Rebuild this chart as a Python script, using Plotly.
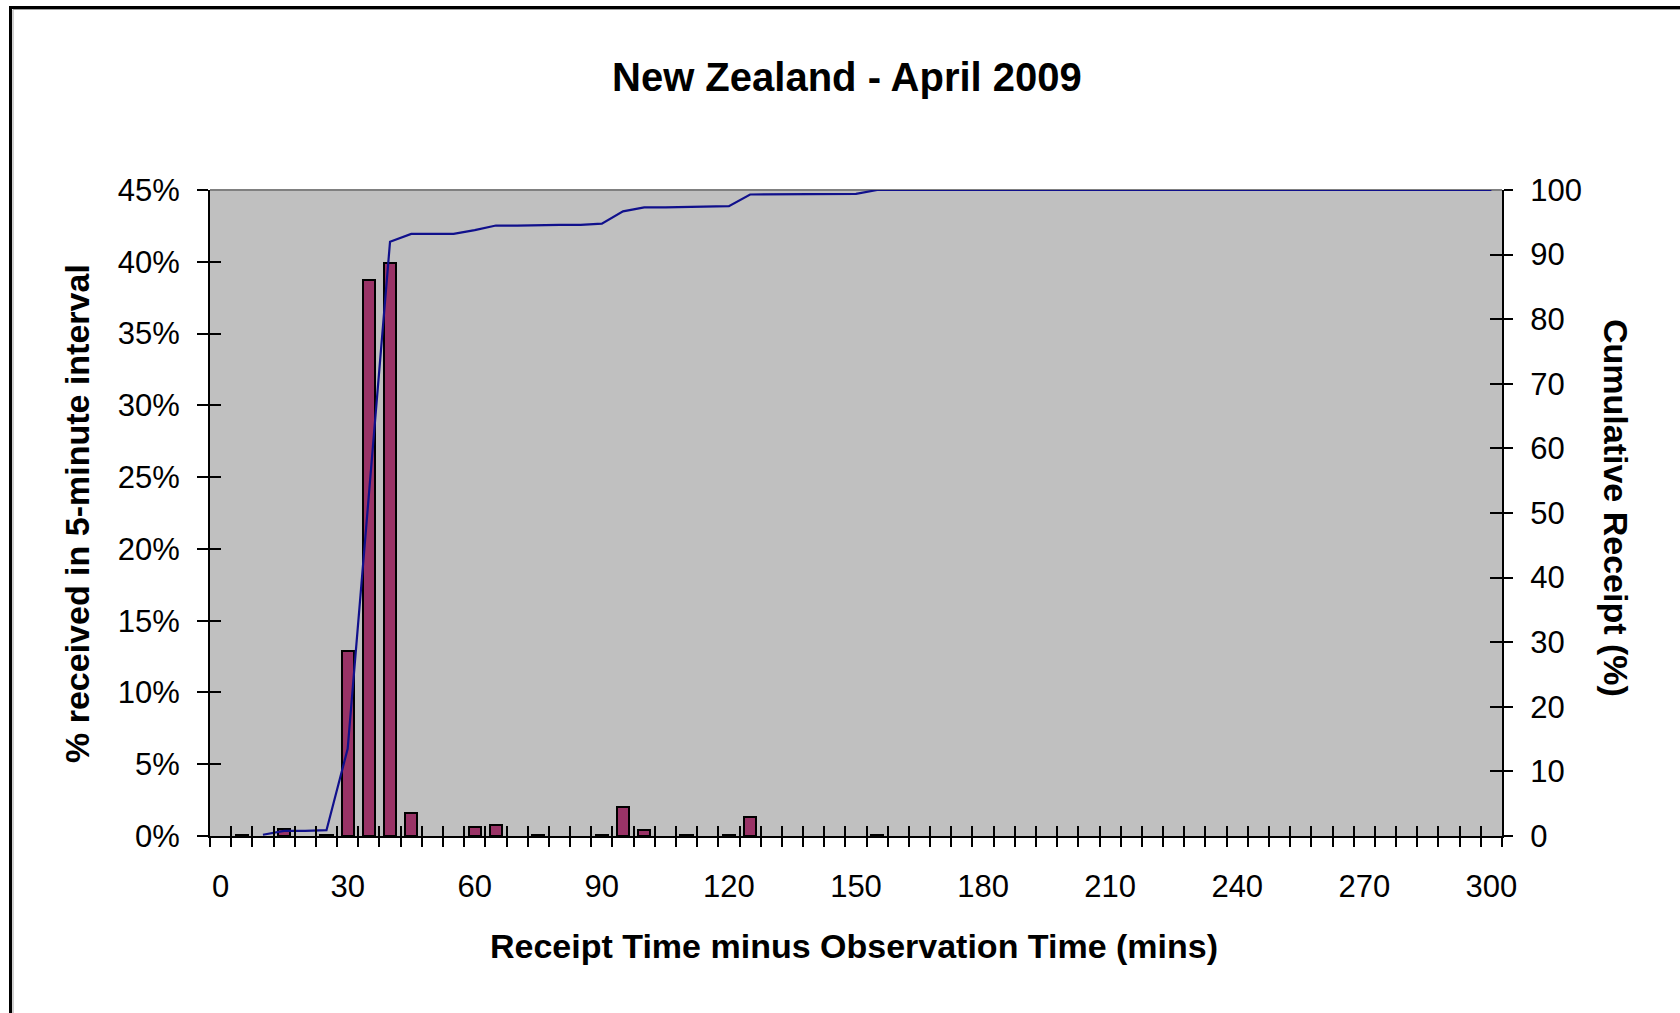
import plotly.graph_objects as go

# ---------------- data ----------------
minutes = list(range(0, 305, 5))  # 61 five-minute categories, 0..300

pct_received = [
    None, 0.1, None, 0.5, None, 0.1, 12.9, 38.7, 39.9, 1.6,   # 0-45
    None, None, 0.6, 0.8, None, 0.1, None, None, 0.1, 2.0,   # 50-95
    0.4, None, 0.1, None, 0.1, 1.3, None, None, None, None,  # 100-145
    None, 0.1, None, None, None, None, None, None, None, None,  # 150-195
    None, None, None, None, None, None, None, None, None, None,  # 200-245
    None, None, None, None, None, None, None, None, None, None,  # 250-295
    None,                                                       # 300
]

cumulative = [
    None, None, 0.2, 0.8, 0.8, 0.9, 13.5, 52.3, 92.0, 93.2,     # 0-45
    93.2, 93.2, 93.8, 94.5, 94.5, 94.6, 94.6, 94.6, 94.8, 96.7,  # 50-95
    97.3, 97.3, 97.4, 97.4, 97.5, 99.3, 99.3, 99.3, 99.3, 99.3,  # 100-145
    99.4, 100, 100, 100, 100, 100, 100, 100, 100, 100,          # 150-195
    100, 100, 100, 100, 100, 100, 100, 100, 100, 100,           # 200-245
    100, 100, 100, 100, 100, 100, 100, 100, 100, 100,           # 250-295
    100,                                                        # 300
]

x_label_vals = list(range(0, 301, 30))
left_tick_vals = list(range(0, 46, 5))
left_tick_text = [f"{v}%" for v in left_tick_vals]
right_tick_vals = list(range(0, 101, 10))
category_edges = [m - 2.5 for m in minutes] + [302.5]

title_text = "New Zealand - April 2009"
x_title = "Receipt Time minus Observation Time (mins)"
y_title = "% received in 5-minute interval"
y2_title = "Cumulative Receipt (%)"

# ---------------- layout geometry ----------------
W, H = 1680, 1013
L, R, T, B = 210, 178, 190, 177
PW, PH = W - L - R, H - T - B


def px(xpix):
    return (xpix - L) / PW


def py(ypix):
    return (H - B - ypix) / PH


FONT = "Arial, Liberation Sans, Helvetica, sans-serif"
XR = [-2.5, 302.5]

fig = go.Figure()

fig.add_trace(go.Bar(
    x=minutes, y=pct_received, width=2.9,
    marker=dict(color="#993366", line=dict(color="black", width=2)),
    xaxis="x", yaxis="y", showlegend=False,
))
fig.add_trace(go.Scatter(
    x=minutes, y=cumulative, mode="lines",
    line=dict(color="#10108C", width=2.2), cliponaxis=False,
    xaxis="x", yaxis="y2", showlegend=False,
))
# empty traces to activate tick-overlay axes
for xa, ya in [("x2", "y"), ("x3", "y"), ("x", "y3"), ("x", "y4")]:
    fig.add_trace(go.Scatter(x=[None], y=[None], xaxis=xa, yaxis=ya,
                             showlegend=False, hoverinfo="skip"))

tickfont = dict(family=FONT, size=31, color="black")
common = dict(showgrid=False, zeroline=False)

fig.update_layout(
    width=W, height=H,
    margin=dict(l=L, r=R, t=T, b=B, pad=0),
    paper_bgcolor="white", plot_bgcolor="#C0C0C0",
    bargap=0,
    font=dict(family=FONT, color="black"),
    xaxis=dict(range=XR, tickmode="array", tickvals=x_label_vals,
               ticks="", showline=True, linecolor="black", linewidth=2,
               tickfont=tickfont, ticklabelstandoff=22, anchor="y", **common),
    xaxis2=dict(range=XR, overlaying="x", anchor="y", tickmode="array",
                tickvals=category_edges, ticks="outside", ticklen=10,
                tickwidth=2, tickcolor="black", showticklabels=False,
                showline=False, **common),
    xaxis3=dict(range=XR, overlaying="x", anchor="y", tickmode="array",
                tickvals=category_edges, ticks="inside", ticklen=10,
                tickwidth=2, tickcolor="black", showticklabels=False,
                showline=False, **common),
    yaxis=dict(range=[0, 45], tickmode="array", tickvals=left_tick_vals,
               ticktext=left_tick_text, ticks="outside", ticklen=11,
               tickwidth=2, tickcolor="black", showline=True,
               linecolor="black", linewidth=2, tickfont=tickfont,
               ticklabelstandoff=11, anchor="x", **common),
    yaxis3=dict(range=[0, 45], overlaying="y", anchor="x", tickmode="array",
                tickvals=left_tick_vals, ticks="inside", ticklen=11,
                tickwidth=2, tickcolor="black", showticklabels=False,
                showline=False, **common),
    yaxis2=dict(range=[0, 100], overlaying="y", side="right", anchor="x",
                tickmode="array", tickvals=right_tick_vals, ticks="outside",
                ticklen=9, tickwidth=2, tickcolor="black", showline=True,
                linecolor="black", linewidth=2, tickfont=tickfont,
                ticklabelstandoff=11, **common),
    yaxis4=dict(range=[0, 100], overlaying="y", side="right", anchor="x",
                tickmode="array", tickvals=right_tick_vals, ticks="inside",
                ticklen=12, tickwidth=2, tickcolor="black",
                showticklabels=False, showline=False, **common),
)

fig.add_annotation(text=f"<b>{title_text}</b>", xref="paper", yref="paper",
                   x=px(847), y=py(77), xanchor="center", yanchor="middle",
                   showarrow=False, font=dict(family=FONT, size=40, color="black"))
fig.add_annotation(text=f"<b>{x_title}</b>", xref="paper", yref="paper",
                   x=px(854), y=py(946), xanchor="center", yanchor="middle",
                   showarrow=False, font=dict(family=FONT, size=34, color="black"))
fig.add_annotation(text=f"<b>{y_title}</b>", xref="paper", yref="paper",
                   x=px(77), y=py(514), xanchor="center", yanchor="middle",
                   showarrow=False, textangle=-90,
                   font=dict(family=FONT, size=34, color="black"))
fig.add_annotation(text=f"<b>{y2_title}</b>", xref="paper", yref="paper",
                   x=px(1616), y=py(508), xanchor="center", yanchor="middle",
                   showarrow=False, textangle=90,
                   font=dict(family=FONT, size=34, color="black"))

# plot-area top edge (grey) and chart-area frame (black, top & left)
fig.add_shape(type="line", xref="paper", yref="paper", x0=0, x1=1, y0=1, y1=1,
              line=dict(color="#808080", width=2), layer="below")
fig.add_shape(type="line", xref="paper", yref="paper",
              x0=px(10.5), x1=px(10.5), y0=py(1100), y1=py(6),
              line=dict(color="black", width=3))
fig.add_shape(type="line", xref="paper", yref="paper",
              x0=px(9), x1=px(1700), y0=py(7.5), y1=py(7.5),
              line=dict(color="black", width=3))
fig.add_shape(type="line", xref="paper", yref="paper",
              x0=px(13), x1=px(13), y0=py(1100), y1=py(9.5),
              line=dict(color="#A0A0A0", width=1))
fig.add_shape(type="line", xref="paper", yref="paper",
              x0=px(13), x1=px(1700), y0=py(9.5), y1=py(9.5),
              line=dict(color="#A0A0A0", width=1))

fig.write_html("out.html", config={"displayModeBar": False},
               post_script="document.body.style.margin='0px';")
